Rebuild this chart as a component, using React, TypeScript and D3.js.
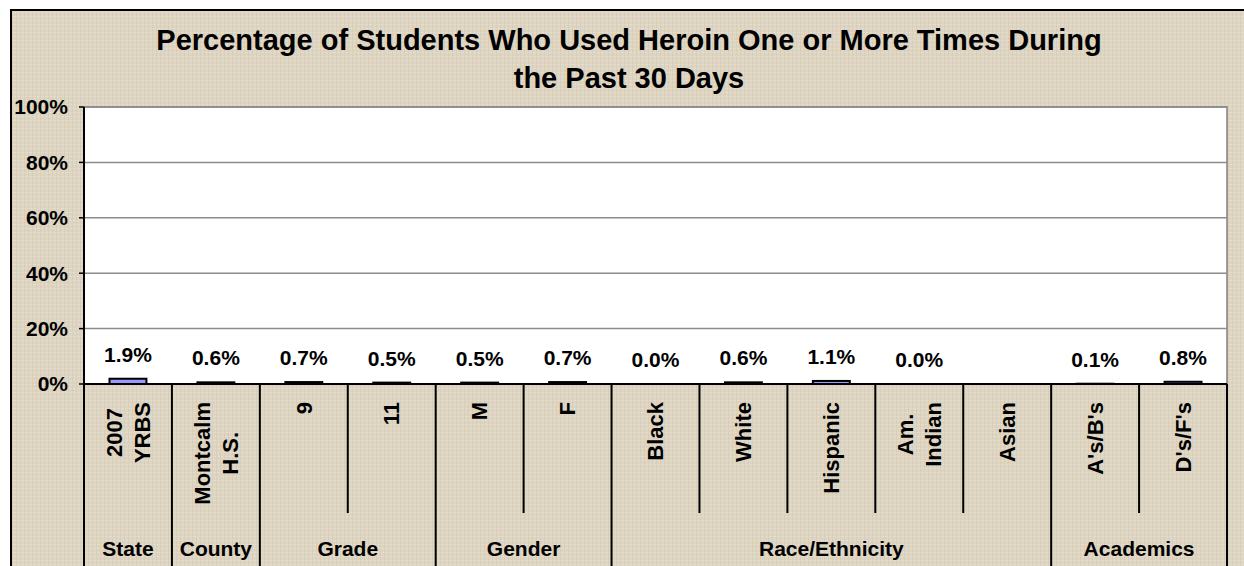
import React from "react";
import * as d3 from "d3";

const titleLines = [
  "Percentage of Students Who Used Heroin One or More Times During",
  "the Past 30 Days",
];
const categories = [
  "2007 YRBS", "Montcalm H.S.", "9", "11", "M", "F",
  "Black", "White", "Hispanic", "Am. Indian", "Asian", "A's/B's", "D's/F's",
];
const categoryLines = [
  ["2007", "YRBS"], ["Montcalm", "H.S."], ["9"], ["11"], ["M"], ["F"],
  ["Black"], ["White"], ["Hispanic"], ["Am.", "Indian"], ["Asian"], ["A's/B's"], ["D's/F's"],
];
const values: (number | null)[] = [1.9, 0.6, 0.7, 0.5, 0.5, 0.7, 0.0, 0.6, 1.1, 0.0, null, 0.1, 0.8];
const groupNames = ["State", "County", "Grade", "Gender", "Race/Ethnicity", "Academics"];
const groupSizes = [1, 1, 2, 2, 5, 2];
const yTicks = [0, 20, 40, 60, 80, 100];

const W = 1244, H = 566;
const plot = { left: 84, right: 1227, top: 107, bottom: 384 };
const FONT = "'Liberation Sans', Arial, sans-serif";
const BG = "#ddd4c1";

let ctx: CanvasRenderingContext2D | null = null;
function textWidth(s: string, size: number) {
  if (!ctx) ctx = document.createElement("canvas").getContext("2d");
  if (!ctx) return s.length * size * 0.55;
  ctx.font = `bold ${size}px ${FONT}`;
  return ctx.measureText(s).width;
}

export default function App() {
  const x = d3.scaleBand<string>().domain(categories).range([plot.left, plot.right]).padding(0);
  const y = d3.scaleLinear().domain([0, 100]).range([plot.bottom, plot.top]);
  const bw = x.bandwidth();
  const barW = bw * 0.42;

  // group boundaries (category indices)
  const bounds: number[] = [0];
  groupSizes.forEach((s) => bounds.push(bounds[bounds.length - 1] + s));
  const edgeX = (i: number) => (i >= categories.length ? plot.right : (x(categories[i]) as number));

  const catFont = 22;
  const catTop = 402;

  return (
    <svg width={W} height={H} style={{ position: "absolute", left: 0, top: 0 }} fontFamily={FONT}>
      <defs>
        <pattern id="cloth" width="4" height="4" patternUnits="userSpaceOnUse">
          <rect width="4" height="4" fill={BG} />
          <rect width="4" height="1" fill="#e6dfcf" opacity="0.7" />
          <rect width="1" height="4" fill="#d2c8b3" opacity="0.5" />
        </pattern>
      </defs>
      <rect width={W} height={H} fill="#fff" />
      <rect x={11} y={10} width={W - 11} height={H - 10} fill="url(#cloth)" />
      <line x1={10} x2={W} y1={10} y2={10} stroke="#000" strokeWidth={2} />
      <line x1={11} x2={11} y1={10} y2={H} stroke="#000" strokeWidth={2} />

      {/* title */}
      {titleLines.map((t, i) => (
        <text key={i} x={629} y={50 + i * 38} textAnchor="middle" fontSize={29} fontWeight="bold" fill="#000">
          {t}
        </text>
      ))}

      {/* plot area */}
      <rect x={plot.left} y={plot.top} width={plot.right - plot.left} height={plot.bottom - plot.top}
        fill="#fff" stroke="#808080" strokeWidth={1.5} />
      {yTicks.filter((t) => t > 0).map((t) => (
        <line key={t} x1={plot.left} x2={plot.right} y1={y(t)} y2={y(t)} stroke="#8c8c8c" strokeWidth={1.5} />
      ))}

      {/* y axis */}
      {yTicks.map((t) => (
        <g key={t}>
          <line x1={plot.left - 5} x2={plot.left} y1={y(t)} y2={y(t)} stroke="#000" strokeWidth={1.5} />
          <text x={68} y={y(t)} dy="0.35em" textAnchor="end" fontSize={21} fontWeight="bold">{t}%</text>
        </g>
      ))}

      {/* bars */}
      {categories.map((c, i) => {
        const v = values[i];
        if (v === null) return null;
        const cx = (x(c) as number) + bw / 2;
        return (
          <g key={c}>
            <rect x={cx - barW / 2} y={y(v)} width={barW} height={Math.max(0, y(0) - y(v))}
              fill="#9999ff" stroke="#000" strokeWidth={2} />
            <text x={cx} y={y(v) - 17} textAnchor="middle" fontSize={21} fontWeight="bold">
              {v.toFixed(1)}%
            </text>
          </g>
        );
      })}

      {/* axes lines */}
      <line x1={plot.left} x2={plot.left} y1={plot.top} y2={H} stroke="#000" strokeWidth={2} />
      <line x1={plot.left} x2={plot.right} y1={plot.bottom} y2={plot.bottom} stroke="#000" strokeWidth={2} />

      {/* separators */}
      {d3.range(1, categories.length + 1).map((i) => {
        const full = bounds.includes(i);
        return (
          <line key={i} x1={edgeX(i)} x2={edgeX(i)} y1={plot.bottom} y2={full ? H : 513}
            stroke="#000" strokeWidth={2} />
        );
      })}

      {/* category labels */}
      {categories.map((c, i) => {
        const cx = (x(c) as number) + bw / 2;
        const lines = categoryLines[i];
        if (lines.length === 1) {
          return (
            <text key={c} transform={`translate(${cx},${catTop}) rotate(-90)`} textAnchor="end"
              dy="0.35em" fontSize={catFont} fontWeight="bold">{lines[0]}</text>
          );
        }
        const maxLen = d3.max(lines, (l) => textWidth(l, catFont)) as number;
        const cy = catTop + maxLen / 2;
        return lines.map((l, j) => {
          const off = (j - (lines.length - 1) / 2) * 28;
          return (
            <text key={c + j} transform={`translate(${cx + off},${cy}) rotate(-90)`} textAnchor="middle"
              dy="0.35em" fontSize={catFont} fontWeight="bold">{l}</text>
          );
        });
      })}

      {/* group labels */}
      {groupNames.map((g, k) => {
        const gx = (edgeX(bounds[k]) + edgeX(bounds[k + 1])) / 2;
        return (
          <text key={g} x={gx} y={556} textAnchor="middle" fontSize={21} fontWeight="bold">{g}</text>
        );
      })}
    </svg>
  );
}
